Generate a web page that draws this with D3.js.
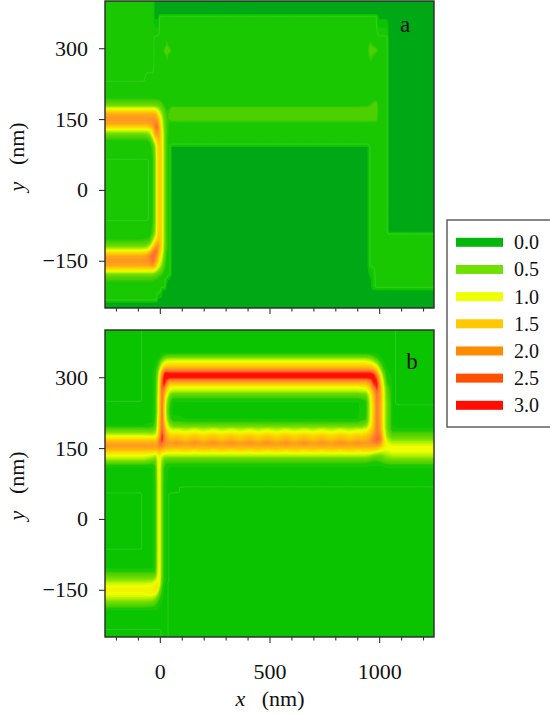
<!DOCTYPE html>
<html>
<head>
<meta charset="utf-8">
<script src="https://d3js.org/d3.v7.min.js"></script>
<style>
html, body { margin: 0; padding: 0; background: #fff; overflow: hidden; }
text { font-family: "Liberation Serif", serif; fill: #111; }
</style>
</head>
<body>
<div id="chart"></div>
<script>
// intensity, one row per y value, one column per x value
var xA = [-250,-80,-60,-45,-32,-22,-15,-8,0,8,15,22,32,45,55,100,900,945,960,985,1000,1035,1045,1250];
var yA = [400,373,367,320,306,296,284,264,232,228,205,192,185,178,173,168,160,150,140,132,127,120,113,107,98,90,68,62,-62,-68,-88,-94,-107,-113,-120,-127,-132,-140,-150,-160,-168,-173,-178,-185,-192,-205,-214,-232,-240,-250];
var fieldA = [
[.08,.08,.08,.08,.08,.02,.02,.02,.02,.02,.02,.02,.02,.02,.02,.02,.02,.02,.02,.02,.02,.02,.02,.02],
[.08,.08,.08,.08,.08,.02,.02,.02,.02,.02,.02,.02,.02,.02,.02,.02,.02,.02,.02,.02,.02,.02,.02,.02],
[.08,.08,.08,.08,.08,.02,.02,.02,.1,.1,.1,.1,.1,.1,.1,.1,.1,.1,.1,.1,.02,.02,.02,.02],
[.08,.08,.08,.08,.08,.1,.1,.1,.1,.1,.1,.1,.1,.1,.1,.1,.1,.1,.1,.1,.1,.1,.02,.02],
[.08,.08,.08,.08,.08,.1,.1,.1,.1,.1,.1,.1,.22,.1,.1,.1,.1,.1,.22,.1,.1,.1,.02,.02],
[.08,.08,.08,.08,.08,.1,.1,.1,.1,.1,.1,.25,.28,.25,.1,.1,.1,.1,.28,.25,.1,.1,.02,.02],
[.08,.08,.08,.08,.08,.1,.1,.1,.1,.1,.1,.1,.22,.1,.1,.1,.1,.1,.22,.1,.1,.1,.02,.02],
[.08,.08,.08,.08,.08,.1,.1,.1,.1,.1,.1,.1,.1,.1,.1,.1,.1,.1,.1,.1,.1,.1,.02,.02],
[.08,.08,.1,.1,.1,.1,.1,.1,.1,.1,.1,.1,.1,.1,.1,.1,.1,.1,.1,.1,.1,.1,.02,.02],
[.1,.1,.1,.1,.1,.1,.1,.1,.1,.1,.1,.1,.1,.1,.1,.1,.1,.1,.1,.1,.1,.1,.02,.02],
[.1,.1,.1,.1,.1,.1,.1,.1,.1,.1,.1,.1,.1,.1,.1,.1,.1,.1,.1,.1,.1,.1,.02,.02],
[.16,.16,.16,.16,.16,.16,.15,.15,.15,.12,.1,.1,.1,.1,.1,.1,.1,.1,.1,.1,.1,.1,.02,.02],
[.3,.3,.3,.3,.3,.3,.28,.25,.22,.18,.13,.1,.1,.1,.1,.1,.1,.1,.12,.25,.1,.1,.02,.02],
[.55,.55,.55,.55,.55,.55,.5,.45,.38,.3,.2,.13,.1,.12,.12,.12,.12,.14,.2,.28,.1,.1,.02,.02],
[1,1,1,1,1,.95,.85,.7,.55,.42,.3,.2,.12,.15,.25,.25,.25,.25,.25,.3,.1,.1,.02,.02],
[1.35,1.35,1.35,1.35,1.35,1.3,1.2,1,.75,.55,.38,.25,.14,.2,.25,.25,.25,.25,.25,.3,.1,.1,.02,.02],
[1.9,1.9,1.9,1.9,1.9,1.85,1.7,1.4,1.05,.75,.5,.3,.17,.22,.25,.25,.25,.25,.25,.25,.1,.1,.02,.02],
[2.1,2.1,2.1,2.1,2.15,2.1,2,1.8,1.4,1,.65,.38,.2,.2,.25,.25,.25,.25,.25,.25,.1,.1,.02,.02],
[1.9,1.9,1.9,2,2.1,2.3,2.35,2.1,1.6,1.15,.75,.42,.22,.12,.1,.1,.1,.1,.1,.1,.1,.1,.02,.02],
[1.35,1.35,1.35,1.55,1.8,2.3,2.5,2.3,1.75,1.2,.8,.45,.22,.1,.1,.1,.1,.1,.1,.1,.1,.1,.02,.02],
[1,1,1,1.05,1.5,2.1,2.3,2.2,1.8,1.25,.85,.45,.22,.1,.1,.1,.1,.1,.1,.1,.1,.1,.02,.02],
[.55,.55,.6,.8,1.3,1.9,2.1,2.1,1.8,1.3,.9,.5,.22,.1,.1,.1,.1,.1,.1,.1,.1,.1,.02,.02],
[.3,.3,.32,.45,1,1.6,1.75,1.95,1.75,1.3,.95,.5,.2,.1,.1,.1,.1,.1,.1,.1,.1,.1,.02,.02],
[.16,.16,.18,.25,.7,1.3,1.45,1.8,1.7,1.3,.95,.5,.2,.1,.1,.1,.1,.1,.1,.1,.1,.1,.02,.02],
[.1,.1,.1,.12,.35,.85,1.15,1.6,1.65,1.3,.95,.5,.2,.1,.1,.1,.1,.1,.1,.1,.1,.1,.02,.02],
[.1,.1,.1,.1,.22,.6,1.05,1.45,1.6,1.4,1,.5,.2,.1,.02,.02,.02,.02,.1,.1,.1,.1,.02,.02],
[.1,.1,.1,.1,.15,.5,1,1.4,1.6,1.4,1,.5,.18,.1,.02,.02,.02,.02,.1,.1,.1,.1,.02,.02],
[.08,.08,.08,.1,.15,.5,1,1.4,1.6,1.4,1,.5,.18,.1,.02,.02,.02,.02,.1,.1,.1,.1,.02,.02],
[.08,.08,.08,.1,.15,.5,1,1.4,1.6,1.4,1,.5,.18,.1,.02,.02,.02,.02,.1,.1,.1,.1,.02,.02],
[.1,.1,.1,.1,.15,.5,1,1.4,1.6,1.4,1,.5,.18,.1,.02,.02,.02,.02,.1,.1,.1,.1,.02,.02],
[.1,.1,.1,.1,.22,.6,1.05,1.45,1.6,1.4,1,.5,.18,.1,.02,.02,.02,.02,.1,.1,.1,.1,.02,.02],
[.1,.1,.1,.1,.3,.7,1.1,1.5,1.6,1.4,1,.5,.19,.1,.02,.02,.02,.02,.1,.1,.1,.1,.1,.1],
[.16,.16,.18,.25,.75,1.2,1.5,1.7,1.65,1.4,1,.5,.2,.1,.02,.02,.02,.02,.1,.1,.1,.1,.1,.1],
[.3,.3,.32,.5,1.05,1.5,1.8,1.9,1.7,1.4,1,.5,.2,.1,.02,.02,.02,.02,.1,.1,.1,.1,.1,.1],
[.55,.55,.6,.95,1.5,1.9,2.2,2.1,1.7,1.35,.95,.5,.2,.1,.02,.02,.02,.02,.1,.1,.1,.1,.1,.1],
[1,1,1.05,1.25,2,2.3,2.4,2.1,1.65,1.3,.9,.45,.18,.1,.02,.02,.02,.02,.1,.1,.1,.1,.1,.1],
[1.35,1.35,1.4,1.85,2.3,2.5,2.4,2,1.55,1.2,.85,.4,.15,.1,.02,.02,.02,.02,.1,.1,.1,.1,.1,.1],
[1.9,1.9,2,2.3,2.55,2.4,2.2,1.8,1.4,1.05,.7,.35,.14,.1,.02,.02,.02,.02,.1,.1,.1,.1,.1,.1],
[2.1,2.1,2.15,2.25,2.5,2.2,1.9,1.55,1.15,.85,.55,.3,.12,.1,.02,.02,.02,.02,.1,.1,.1,.1,.1,.1],
[1.9,1.9,1.9,1.95,2.1,1.8,1.5,1.2,.9,.65,.4,.22,.1,.1,.02,.02,.02,.02,.1,.1,.1,.1,.1,.1],
[1.35,1.35,1.35,1.35,1.35,1.2,1,.8,.6,.42,.28,.15,.1,.1,.02,.02,.02,.02,.06,.1,.1,.1,.1,.1],
[1,1,1,1,1,.85,.7,.55,.42,.3,.2,.12,.1,.1,.02,.02,.02,.02,.05,.1,.1,.1,.1,.1],
[.55,.55,.55,.55,.55,.45,.4,.32,.25,.2,.14,.1,.1,.1,.02,.02,.02,.02,.04,.1,.1,.1,.1,.1],
[.3,.3,.3,.3,.28,.25,.22,.18,.15,.12,.1,.1,.1,.04,.02,.02,.02,.02,.03,.1,.1,.1,.1,.1],
[.16,.16,.16,.16,.16,.14,.12,.11,.1,.1,.1,.1,.04,.02,.02,.02,.02,.02,.02,.1,.1,.1,.1,.1],
[.1,.1,.1,.1,.1,.1,.1,.1,.1,.1,.1,.1,.02,.02,.02,.02,.02,.02,.02,.1,.1,.1,.1,.1],
[.1,.1,.1,.1,.1,.1,.1,.1,.1,.06,.02,.02,.02,.02,.02,.02,.02,.02,.02,.02,.02,.02,.02,.02],
[.1,.1,.1,.1,.1,.1,.1,.02,.02,.02,.02,.02,.02,.02,.02,.02,.02,.02,.02,.02,.02,.02,.02,.02],
[.02,.02,.02,.02,.02,.02,.02,.02,.02,.02,.02,.02,.02,.02,.02,.02,.02,.02,.02,.02,.02,.02,.02,.02],
[.02,.02,.02,.02,.02,.02,.02,.02,.02,.02,.02,.02,.02,.02,.02,.02,.02,.02,.02,.02,.02,.02,.02,.02]
];

var xB = [-250,-90,-75,-35,-20,-10,0,10,20,30,45,60,120,900,940,960,975,990,1005,1020,1035,1060,1090,1250];
var yB = [400,358,352,345,338,331,324,317,310,305,299,292,285,278,271,264,253,245,238,225,211,204,197,190,183,176,169,162,155,148,141,134,127,120,113,105,70,66,57,53,-62,-66,-100,-105,-112,-120,-128,-135,-142,-151,-160,-167,-174,-181,-188,-194,-200,-232,-236,-250];
var fieldB = [
[.04,.04,.05,.05,.05,.05,.05,.05,.05,.05,.05,.05,.05,.05,.05,.05,.05,.05,.05,.05,.05,.05,.04,.04],
[.04,.04,.05,.05,.05,.05,.05,.05,.05,.05,.05,.05,.05,.05,.05,.05,.05,.05,.05,.05,.05,.05,.04,.04],
[.04,.04,.05,.05,.05,.05,.05,.06,.06,.06,.06,.06,.06,.06,.06,.06,.05,.05,.05,.05,.05,.05,.04,.04],
[.04,.04,.05,.05,.05,.05,.06,.1,.2,.25,.3,.3,.3,.3,.3,.25,.15,.08,.05,.05,.05,.05,.04,.04],
[.04,.04,.05,.05,.05,.06,.15,.35,.6,.75,.8,.8,.8,.8,.8,.7,.5,.25,.08,.05,.05,.05,.04,.04],
[.04,.04,.05,.05,.05,.1,.35,.75,1,1.15,1.2,1.2,1.2,1.2,1.2,1.05,.9,.6,.2,.06,.05,.05,.04,.04],
[.04,.04,.05,.05,.06,.2,.6,1.05,1.4,1.5,1.55,1.55,1.55,1.55,1.55,1.5,1.3,1,.45,.1,.05,.05,.04,.04],
[.04,.04,.05,.05,.08,.3,.9,1.45,2,2.1,2.1,2.1,2.1,2.1,2.1,2.05,1.85,1.45,.75,.2,.06,.05,.04,.04],
[.04,.04,.05,.05,.1,.45,1.15,1.95,2.65,2.85,2.75,2.75,2.75,2.75,2.75,2.75,2.5,1.9,1.05,.35,.07,.05,.04,.04],
[.04,.04,.05,.05,.12,.55,1.3,2.15,2.9,3.1,3.1,3.1,3.1,3.1,3.1,3.1,2.95,2.3,1.3,.5,.08,.05,.04,.04],
[.04,.04,.05,.05,.13,.6,1.4,2.4,3,3.05,2.9,2.9,2.9,2.9,2.9,2.95,3.05,2.6,1.5,.65,.1,.05,.04,.04],
[.04,.04,.05,.05,.14,.65,1.5,2.55,3,2.7,2.15,2.15,2.15,2.15,2.15,2.45,3,2.85,1.7,.8,.15,.05,.04,.04],
[.04,.04,.05,.05,.15,.7,1.55,2.6,2.9,2.3,1.6,1.55,1.55,1.55,1.6,2,2.8,2.95,1.85,.9,.2,.05,.04,.04],
[.04,.04,.05,.05,.15,.75,1.55,2.65,2.5,1.8,1.15,1.05,1.05,1.05,1.15,1.6,2.4,2.85,2,1.05,.3,.05,.04,.04],
[.04,.04,.05,.05,.15,.75,1.55,2.55,2.1,1.5,.95,.85,.85,.85,.9,1.35,2.05,2.65,2,1.1,.35,.05,.04,.04],
[.04,.04,.05,.05,.15,.8,1.55,2.5,1.9,1.2,.65,.4,.4,.4,.5,1.15,1.85,2.5,2,1.1,.4,.05,.04,.04],
[.04,.04,.05,.05,.15,.85,1.55,2.5,1.7,.9,.3,.1,.1,.1,.2,1,1.7,2.45,2,1.1,.45,.05,.04,.04],
[.05,.05,.05,.05,.15,.85,1.6,2.5,1.6,.8,.2,.05,.05,.05,.1,.95,1.65,2.4,1.95,1.1,.5,.05,.04,.04],
[.05,.05,.05,.05,.15,.85,1.6,2.5,1.5,.7,.18,.05,.05,.05,.1,.95,1.6,2.4,1.95,1.1,.5,.05,.05,.05],
[.05,.05,.05,.05,.15,.85,1.6,2.5,1.5,.7,.15,.05,.05,.05,.1,.95,1.6,2.4,1.95,1.1,.5,.05,.05,.05],
[.05,.05,.05,.05,.2,1,1.7,2.55,1.6,.85,.25,.08,.06,.06,.15,1,1.65,2.4,1.95,1.1,.5,.05,.05,.05],
[.05,.05,.05,.06,.25,1,1.75,2.55,1.75,1.05,.45,.25,.2,.2,.35,1.05,1.7,2.4,2,1.1,.5,.05,.05,.05],
[.06,.06,.06,.1,.3,1.05,1.8,2.6,1.9,1.2,.7,.5,.45,.45,.6,1.15,1.75,2.4,2,1.1,.5,.06,.05,.05],
[.3,.3,.3,.3,.5,1.1,1.85,2.65,2.05,1.45,1.05,.85,.85,.85,1,1.4,1.85,2.45,2,1.15,.55,.07,.07,.07],
[.6,.6,.6,.55,.7,1.25,1.9,2.75,2.2,1.65,1.25,1.15,1.15,1.15,1.3,1.6,2,2.45,2.2,1.25,.6,.2,.2,.2],
[1,1,1,.95,1,1.4,2.1,2.85,2.4,1.85,1.55,1.5,1.5,1.5,1.6,1.85,2.2,2.55,2.35,1.35,.7,.35,.35,.35],
[1.4,1.4,1.4,1.4,1.4,1.7,2.4,2.9,2.45,2,1.75,1.7,1.7,1.7,1.8,2.05,2.4,2.65,2.5,1.5,.85,.55,.55,.55],
[1.85,1.85,1.85,1.85,1.8,2,2.55,2.65,2.3,2.1,2.05,2.05,2.05,2.05,2.05,2.15,2.3,2.45,2.2,1.45,1,.8,.8,.8],
[2.05,2.05,2.05,2.05,2,2.1,2.35,2.3,2.1,2,1.95,1.95,1.95,1.95,1.95,1.95,1.95,1.95,1.75,1.35,1.1,1,1,1],
[1.85,1.85,1.85,1.85,1.75,1.85,2,1.85,1.7,1.62,1.6,1.6,1.6,1.6,1.6,1.6,1.6,1.55,1.3,1.1,1.05,1.1,1.1,1.1],
[1.4,1.4,1.4,1.35,1.25,1.4,1.55,1.35,1.25,1.2,1.15,1.15,1.15,1.15,1.15,1.15,1.05,.95,.85,.85,.9,1,1,1],
[1.05,1.05,1.05,.95,.8,1.1,1.25,.95,.85,.8,.8,.8,.8,.8,.8,.7,.55,.5,.5,.6,.7,.8,.8,.8],
[.8,.8,.8,.6,.5,1,1.15,.7,.5,.42,.4,.4,.4,.4,.4,.32,.25,.25,.28,.38,.5,.55,.55,.55],
[.4,.4,.4,.25,.3,.95,1.1,.6,.3,.2,.2,.2,.2,.2,.2,.15,.13,.13,.15,.2,.27,.3,.3,.3],
[.07,.07,.07,.08,.2,.95,1.1,.5,.2,.1,.07,.07,.07,.07,.07,.06,.06,.06,.06,.07,.09,.1,.1,.1],
[.05,.05,.05,.05,.15,.9,1.1,.45,.12,.07,.05,.05,.05,.05,.05,.05,.05,.05,.05,.05,.05,.05,.05,.05],
[.05,.05,.05,.05,.12,.85,1.1,.4,.1,.06,.05,.05,.05,.05,.05,.05,.05,.05,.05,.05,.05,.05,.05,.05],
[.05,.05,.05,.05,.12,.85,1.1,.4,.1,.06,.05,.05,.04,.04,.04,.04,.04,.04,.04,.04,.04,.04,.04,.04],
[.05,.05,.05,.05,.12,.85,1.1,.4,.1,.06,.05,.05,.04,.04,.04,.04,.04,.04,.04,.04,.04,.04,.04,.04],
[.04,.04,.05,.05,.12,.85,1.1,.4,.1,.06,.04,.04,.04,.04,.04,.04,.04,.04,.04,.04,.04,.04,.04,.04],
[.04,.04,.05,.05,.12,.85,1.1,.4,.1,.06,.04,.04,.04,.04,.04,.04,.04,.04,.04,.04,.04,.04,.04,.04],
[.05,.05,.05,.05,.12,.85,1.1,.4,.1,.06,.04,.04,.04,.04,.04,.04,.04,.04,.04,.04,.04,.04,.04,.04],
[.05,.05,.05,.05,.14,.88,1.1,.4,.1,.06,.04,.04,.04,.04,.04,.04,.04,.04,.04,.04,.04,.04,.04,.04],
[.06,.06,.06,.06,.15,.9,1.1,.4,.1,.06,.04,.04,.04,.04,.04,.04,.04,.04,.04,.04,.04,.04,.04,.04],
[.15,.15,.15,.15,.2,.95,1.1,.4,.1,.06,.04,.04,.04,.04,.04,.04,.04,.04,.04,.04,.04,.04,.04,.04],
[.35,.35,.35,.35,.45,1,1.1,.4,.1,.06,.04,.04,.04,.04,.04,.04,.04,.04,.04,.04,.04,.04,.04,.04],
[.6,.6,.6,.6,.8,1.1,1.05,.35,.1,.06,.04,.04,.04,.04,.04,.04,.04,.04,.04,.04,.04,.04,.04,.04],
[.85,.85,.85,.9,1.1,1.25,1,.3,.08,.05,.04,.04,.04,.04,.04,.04,.04,.04,.04,.04,.04,.04,.04,.04],
[1.05,1.05,1.05,1.1,1.3,1.3,.85,.22,.07,.05,.04,.04,.04,.04,.04,.04,.04,.04,.04,.04,.04,.04,.04,.04],
[1.15,1.15,1.15,1.2,1.3,1.05,.55,.15,.06,.05,.04,.04,.04,.04,.04,.04,.04,.04,.04,.04,.04,.04,.04,.04],
[1.05,1.05,1.05,1.1,1,.7,.3,.1,.05,.05,.04,.04,.04,.04,.04,.04,.04,.04,.04,.04,.04,.04,.04,.04],
[.85,.85,.85,.85,.65,.4,.18,.07,.05,.05,.04,.04,.04,.04,.04,.04,.04,.04,.04,.04,.04,.04,.04,.04],
[.6,.6,.6,.55,.4,.22,.1,.06,.05,.05,.04,.04,.04,.04,.04,.04,.04,.04,.04,.04,.04,.04,.04,.04],
[.35,.35,.35,.3,.2,.12,.07,.05,.05,.05,.04,.04,.04,.04,.04,.04,.04,.04,.04,.04,.04,.04,.04,.04],
[.15,.15,.15,.13,.1,.07,.05,.05,.05,.05,.04,.04,.04,.04,.04,.04,.04,.04,.04,.04,.04,.04,.04,.04],
[.06,.06,.06,.06,.06,.05,.05,.05,.05,.05,.04,.04,.04,.04,.04,.04,.04,.04,.04,.04,.04,.04,.04,.04],
[.05,.05,.05,.05,.05,.05,.05,.05,.05,.05,.04,.04,.04,.04,.04,.04,.04,.04,.04,.04,.04,.04,.04,.04],
[.05,.05,.05,.05,.05,.05,.05,.05,.05,.05,.04,.04,.04,.04,.04,.04,.04,.04,.04,.04,.04,.04,.04,.04],
[.04,.04,.04,.04,.04,.04,.04,.05,.05,.05,.04,.04,.04,.04,.04,.04,.04,.04,.04,.04,.04,.04,.04,.04],
[.04,.04,.04,.04,.04,.04,.04,.05,.05,.05,.04,.04,.04,.04,.04,.04,.04,.04,.04,.04,.04,.04,.04,.04]
];

// finer reading of the beaded stretch of the lower arm in panel b
var xBeads = [60,76,117,159,200,242,283,325,366,408,449,491,532,574,615,657,698,740,781,823,864,906,925];
var yBeads = [197,190,183,176,169,162,155,148,141,134];
var fieldBeads = [
[.45,.45,.45,.45,.45,.45,.45,.45,.45,.45,.45,.45,.45,.45,.45,.45,.45,.45,.45,.45,.45,.45,.45],
[.85,.92,.78,.92,.78,.92,.78,.92,.78,.92,.78,.92,.78,.92,.78,.92,.78,.92,.78,.92,.78,.92,.85],
[1.15,1.22,1.08,1.22,1.08,1.22,1.08,1.22,1.08,1.22,1.08,1.22,1.08,1.22,1.08,1.22,1.08,1.22,1.08,1.22,1.08,1.22,1.15],
[1.5,1.57,1.42,1.57,1.42,1.57,1.42,1.57,1.42,1.57,1.42,1.57,1.42,1.57,1.42,1.57,1.42,1.57,1.42,1.57,1.42,1.57,1.5],
[1.7,1.8,1.6,1.8,1.6,1.8,1.6,1.8,1.6,1.8,1.6,1.8,1.6,1.8,1.6,1.8,1.6,1.8,1.6,1.8,1.6,1.8,1.7],
[2.05,2.15,1.95,2.15,1.95,2.15,1.95,2.15,1.95,2.15,1.95,2.15,1.95,2.15,1.95,2.15,1.95,2.15,1.95,2.15,1.95,2.15,2.05],
[1.95,2,1.9,2,1.9,2,1.9,2,1.9,2,1.9,2,1.9,2,1.9,2,1.9,2,1.9,2,1.9,2,1.95],
[1.6,1.55,1.65,1.55,1.65,1.55,1.65,1.55,1.65,1.55,1.65,1.55,1.65,1.55,1.65,1.55,1.65,1.55,1.65,1.55,1.65,1.55,1.6],
[1.15,1.12,1.18,1.12,1.18,1.12,1.18,1.12,1.18,1.12,1.18,1.12,1.18,1.12,1.18,1.12,1.18,1.12,1.18,1.12,1.18,1.12,1.15],
[.8,.8,.8,.8,.8,.8,.8,.8,.8,.8,.8,.8,.8,.8,.8,.8,.8,.8,.8,.8,.8,.8,.8]
];

var levels = [0,.03,.045,.06,.09,.15,.2,.3,.4,.5,.6,.7,.8,.9,1,1.1,1.2,1.3,1.4,1.5,1.6,1.7,1.8,1.9,2,2.1,2.2,2.3,2.4,2.5,2.6,2.7,2.8,2.9];
var colorStops = [0,.03,.045,.06,.09,.15,.2,.5,1,1.5,2,2.5,2.9];
var colorRange = ["#00a815","#0ac400","#0ac400","#19c800","#19c800","#30cc00","#4ed000","#74e000","#eeff00","#ffcc00","#ff9a20","#ff6a30","#ff0d00"];

var legendLabels = ["0.0","0.5","1.0","1.5","2.0","2.5","3.0"];
var legendColors = ["#00b80b","#70e000","#eeff00","#ffc800","#ff8c00","#ff5000","#ff0d00"];

var xMajor = [0,500,1000];
var xMinor = [-200,-100,100,200,300,400,600,700,800,900,1100,1200];
var yMajor = [-150,0,150,300];

var width = 550, height = 715;
var svg = d3.select("#chart").append("svg")
    .attr("width", width)
    .attr("height", height)
    .style("display", "block");

var fill = d3.scaleLinear().domain(colorStops).range(colorRange).clamp(true);

var x = d3.scaleLinear().domain([-250, 1250]).range([105, 434]);

// sampler for one table, uses the column and row lists as its index scales
function sampler(xs, ys, field) {
    var xIndex = d3.scaleLinear().domain(xs).range(d3.range(xs.length)).clamp(true);
    var yIndex = d3.scaleLinear().domain(ys).range(d3.range(ys.length)).clamp(true);
    return function(vx, vy) {
        var fx = xIndex(vx), fy = yIndex(vy);
        var i0 = Math.min(Math.floor(fx), xs.length - 2), tx = fx - i0;
        var j0 = Math.min(Math.floor(fy), ys.length - 2), ty = fy - j0;
        return (field[j0][i0] * (1 - tx) + field[j0][i0 + 1] * tx) * (1 - ty) +
               (field[j0 + 1][i0] * (1 - tx) + field[j0 + 1][i0 + 1] * tx) * ty;
    };
}

function drawPanel(name, top, bottom, xs, ys, field, lineLevels, letterX, letterY, showLabels) {
    var y = d3.scaleLinear().domain([-250, 400]).range([bottom, top]);
    var g = svg.append("g").attr("id", "panel-" + name);

    g.append("clipPath").attr("id", "clip-" + name)
        .append("rect")
        .attr("x", x(-250)).attr("y", top)
        .attr("width", x(1250) - x(-250)).attr("height", bottom - top);

    // values are resampled on a regular lattice because d3.contours wants one
    var dx = 3, dy = 2;
    var n = 501, m = 326;
    var main = sampler(xs, ys, field);
    var beads = sampler(xBeads, yBeads, fieldBeads);
    var values = new Float64Array(n * m);
    for (var j = 0; j < m; j++) {
        var vy = 400 - j * dy;
        for (var i = 0; i < n; i++) {
            var vx = -250 + i * dx;
            var inBeads = name == "b" && vx >= 60 && vx <= 925 && vy <= 197 && vy >= 134;
            values[j * n + i] = inBeads ? beads(vx, vy) : main(vx, vy);
        }
    }

    var contours = d3.contours().size([n, m]).thresholds(levels)(values);
    var path = d3.geoPath(d3.geoTransform({
        point: function(px, py) {
            this.stream.point(x(-250 + (px - 0.5) * dx), y(400 - (py - 0.5) * dy));
        }
    }));

    g.append("g")
        .attr("clip-path", "url(#clip-" + name + ")")
        .selectAll("path")
        .data(contours)
        .enter()
            .append("path")
            .attr("d", path)
            .attr("fill", function(d){ return fill(d.value); })
            .attr("stroke", function(d){ return lineLevels.indexOf(d.value) >= 0 ? "#4fd84a" : "none"; })
            .attr("stroke-width", 0.5);

    g.append("rect")
        .attr("x", x(-250)).attr("y", top)
        .attr("width", x(1250) - x(-250)).attr("height", bottom - top)
        .attr("fill", "none")
        .attr("stroke", "#2a2a2a")
        .attr("stroke-width", 1.4);

    var xAxis = d3.axisBottom(x).tickValues(xMajor).tickSize(6).tickPadding(20.5)
        .tickFormat(showLabels ? d3.format("d") : "");
    var axisX = g.append("g").attr("transform", "translate(0," + bottom + ")").call(xAxis);
    axisX.select(".domain").remove();
    axisX.selectAll("line").attr("stroke", "#333").attr("stroke-width", 1.1);
    axisX.selectAll("text").style("font-size", "22px").style("font-family", "Liberation Serif").attr("fill", "#111");

    var minor = g.append("g").attr("transform", "translate(0," + bottom + ")")
        .call(d3.axisBottom(x).tickValues(xMinor).tickSize(3.5).tickFormat(""));
    minor.select(".domain").remove();
    minor.selectAll("line").attr("stroke", "#333").attr("stroke-width", 1.1);

    var axisY = g.append("g").attr("transform", "translate(" + x(-250) + ",0)")
        .call(d3.axisLeft(y).tickValues(yMajor).tickSize(6).tickPadding(11)
            .tickFormat(function(d){ return d < 0 ? "\u2212" + (-d) : d; }));
    axisY.select(".domain").remove();
    axisY.selectAll("line").attr("stroke", "#333").attr("stroke-width", 1.1);
    axisY.selectAll("text").style("font-size", "22px").style("font-family", "Liberation Serif").attr("fill", "#111");

    var yTitle = g.append("text")
        .attr("transform", "translate(24," + y(70) + ") rotate(-90)")
        .attr("text-anchor", "middle")
        .style("font-size", "22px");
    yTitle.append("tspan").style("font-style", "italic").text("y");
    yTitle.append("tspan").text("\u00a0\u00a0\u00a0(nm)");

    g.append("text")
        .attr("x", letterX).attr("y", letterY)
        .attr("text-anchor", "middle")
        .style("font-size", "23px")
        .text(name);
}

drawPanel("a", 1, 308, xA, yA, fieldA, [.09], 405, 32, false);
drawPanel("b", 330, 637, xB, yB, fieldB, [.045], 412, 369, true);

var xTitle = svg.append("text")
    .attr("x", 270).attr("y", 706)
    .attr("text-anchor", "middle")
    .style("font-size", "22px");
xTitle.append("tspan").style("font-style", "italic").text("x");
xTitle.append("tspan").text("\u00a0\u00a0\u00a0(nm)");

// legend, its right side runs off the page
var legendY = d3.scalePoint().domain(legendLabels).range([242.3, 405.3]);
var legend = svg.append("g").attr("id", "legend");
legend.append("rect")
    .attr("x", 447).attr("y", 220)
    .attr("width", 120).attr("height", 207)
    .attr("fill", "#fff")
    .attr("stroke", "#555")
    .attr("stroke-width", 1.4);
legend.selectAll("rect.swatch")
    .data(legendLabels)
    .enter()
        .append("rect")
        .attr("class", "swatch")
        .attr("x", 456)
        .attr("y", function(d){ return legendY(d) - 4.5; })
        .attr("width", 47)
        .attr("height", 9)
        .attr("fill", function(d,i){ return legendColors[i]; });
legend.selectAll("text")
    .data(legendLabels)
    .enter()
        .append("text")
        .attr("x", 514)
        .attr("y", function(d){ return legendY(d) + 7; })
        .style("font-size", "20px")
        .text(function(d){ return d; });
</script>
</body>
</html>
